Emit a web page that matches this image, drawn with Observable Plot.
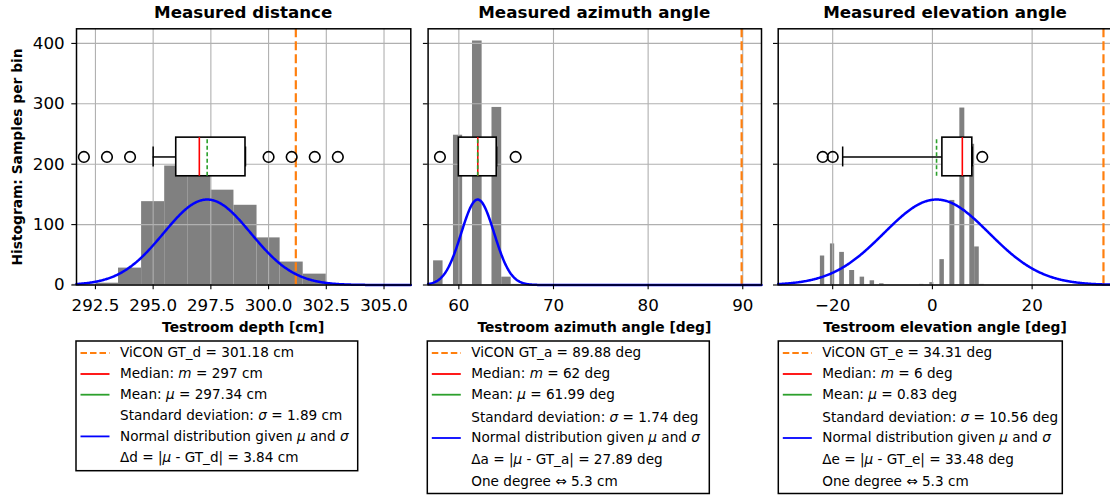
<!DOCTYPE html>
<html><head><meta charset="utf-8">
<script src="https://cdn.jsdelivr.net/npm/d3@7"></script>
<script src="https://cdn.jsdelivr.net/npm/@observablehq/plot@0.6"></script>
<style>
html,body{margin:0;padding:0;background:#fff;overflow:hidden;}
#page{position:relative;width:1110px;height:495px;overflow:hidden;background:#fff;font-family:"DejaVu Sans",sans-serif;}
#page svg{position:absolute;top:0;}
</style></head><body><div id="page"></div>
<script>
// ---------- DATA ----------
const yTicks = [0, 100, 200, 300, 400];

// Measured distance
const distBinLo  = [291.5, 292.5, 293.5, 294.5, 295.5, 296.5, 297.5, 298.5, 299.5, 300.5, 301.5, 302.5];
const distBinHi  = [292.5, 293.5, 294.5, 295.5, 296.5, 297.5, 298.5, 299.5, 300.5, 301.5, 302.5, 303.5];
const distCounts = [1, 3, 28, 138, 197, 215, 157, 132, 78, 38, 18, 1];
const distBox = {whiskerLo: 295, q1: 296, median: 297, q3: 299, whiskerHi: 299};
const distOutliers = [292, 293, 294, 300, 301, 302, 303];
const distMean = 297.34, distSd = 1.89, distGT = 301.18;
const distTicks = [292.5, 295, 297.5, 300, 302.5, 305];

// Measured azimuth angle
const aziBinLo  = [57.33, 59.43, 61.44, 63.50, 64.53, 65.56];
const aziBinHi  = [58.33, 60.40, 62.46, 64.53, 65.53, 66.56];
const aziCounts = [40, 248, 404, 294, 13, 1];
const aziBox = {whiskerLo: 60, q1: 60, median: 62, q3: 64, whiskerHi: 64};
const aziOutliers = [58, 66];
const aziMean = 61.99, aziSd = 1.74, aziGT = 89.88;
const aziTicks = [60, 70, 80, 90];

// Measured elevation angle
const eleBinLo  = [-22.47, -20.46, -18.60, -16.60, -14.50, -12.50, -10.60, -2.60, -0.52, 1.50, 3.50, 5.50, 7.50, 8.47, 9.50];
const eleBinHi  = [-21.60, -19.60, -17.65, -15.60, -13.60, -11.60, -9.70, -1.70, 0.28, 2.40, 4.50, 6.50, 8.47, 9.40, 10.40];
const eleCounts = [48, 68, 54, 24, 13, 7, 2, 1, 4, 42, 140, 293, 233, 63, 1];
const eleBox = {whiskerLo: -18, q1: 2, median: 6, q3: 8, whiskerHi: 8};
const eleOutliers = [-22, -20, 10];
const eleMean = 0.83, eleSd = 10.56, eleGT = 34.31;
const eleTicks = [-20, 0, 20];

const titles  = ["Measured distance", "Measured azimuth angle", "Measured elevation angle"];
const xLabels = ["Testroom depth [cm]", "Testroom azimuth angle [deg]", "Testroom elevation angle [deg]"];
const yLabel  = "Histogram: Samples per bin";

const legend1 = ["ViCON GT_d = 301.18 cm", "Median: *m* = 297 cm", "Mean: *μ* = 297.34 cm",
  "Standard deviation: *σ* = 1.89 cm", "Normal distribution given *μ* and *σ*", "Δd = |*μ* - GT_d| = 3.84 cm"];
const legend2 = ["ViCON GT_a = 89.88 deg", "Median: *m* = 62 deg", "Mean: *μ* = 61.99 deg",
  "Standard deviation: *σ* = 1.74 deg", "Normal distribution given *μ* and *σ*", "Δa = |*μ* - GT_a| = 27.89 deg", "One degree ⇔ 5.3 cm"];
const legend3 = ["ViCON GT_e = 34.31 deg", "Median: *m* = 6 deg", "Mean: *μ* = 0.83 deg",
  "Standard deviation: *σ* = 10.56 deg", "Normal distribution given *μ* and *σ*", "Δe = |*μ* - GT_e| = 33.48 deg", "One degree ⇔ 5.3 cm"];
const legendHandles = ["gt", "median", "mean", "none", "normal", "none", "none"];

// ---------- STYLE / LAYOUT ----------
const yMax = 424.2;
const boxCenter = 212, boxHalf = 32, capHalf = 16.5;
const curvePeak = 141.5;
const C = {bar: "#808080", grid: "#b0b0b0", gt: "#ff7f0e", median: "#ff0000", mean: "#2ca02c", normal: "#0000ff"};
const FONT = "DejaVu Sans";
const fmtMinus = d => (d < 0 ? "\u2212" + Math.abs(d) : String(d));

const panels = [
  {left: 0, width: 420, mL: 76, mR: 9.7, domain: [291.68, 306.16], ticks: distTicks, fmt: d => d.toFixed(1),
   lo: distBinLo, hi: distBinHi, n: distCounts, box: distBox, out: distOutliers, mean: distMean, sd: distSd, gt: distGT,
   showY: true, legend: legend1, lg: {x: 76, w: 281.7, h: 129.7, base: [357.3, 378.3, 399, 420, 440.7, 461.7]}},
  {left: 420, width: 350, mL: 7.6, mR: 9, domain: [56.75, 91.98], ticks: aziTicks, fmt: d => String(d),
   lo: aziBinLo, hi: aziBinHi, n: aziCounts, box: aziBox, out: aziOutliers, mean: aziMean, sd: aziSd, gt: aziGT,
   showY: false, legend: legend2, lg: {x: 427.3, w: 282, h: 152.5, base: [357.3, 378.3, 399, 421.7, 442.3, 464.3, 485.7]}},
  {left: 770, width: 345, mL: 7.7, mR: 2.6, domain: [-30.93, 36.2], ticks: eleTicks, fmt: fmtMinus,
   lo: eleBinLo, hi: eleBinHi, n: eleCounts, box: eleBox, out: eleOutliers, mean: eleMean, sd: eleSd, gt: eleGT,
   showY: false, legend: legend3, lg: {x: 778.3, w: 284, h: 152.5, base: [357.3, 378.3, 399, 421.7, 442.3, 464.3, 485.7]}}
];

const page = document.getElementById("page");
const mT = 28.3, svgH = 340, mB = svgH - 284.5;

panels.forEach(p => {
  const bars = p.n.map((n, i) => ({lo: p.lo[i], hi: p.hi[i], n}));
  const xs = d3.range(0, 501).map(i => p.domain[0] + (p.domain[1] - p.domain[0]) * i / 500);
  const curve = xs.map(x => ({x, y: curvePeak * Math.exp(-0.5 * ((x - p.mean) / p.sd) ** 2)}));
  const b = p.box;
  const chart = Plot.plot({
    width: p.width, height: svgH,
    marginLeft: p.mL, marginRight: p.mR, marginTop: mT, marginBottom: mB,
    x: {domain: p.domain, label: null},
    y: {domain: [0, yMax], label: null},
    style: {fontFamily: FONT, fontSize: "16.7px", color: "black", background: "transparent", overflow: "visible"},
    marks: [
      Plot.rect(bars, {x1: "lo", x2: "hi", y1: () => 0, y2: "n", fill: C.bar}),
      Plot.gridX(p.ticks, {stroke: C.grid, strokeOpacity: 1, strokeWidth: 1.1}),
      Plot.gridY(yTicks, {stroke: C.grid, strokeOpacity: 1, strokeWidth: 1.1}),
      Plot.ruleX([p.gt], {stroke: C.gt, strokeWidth: 2.2, strokeDasharray: "9,4"}),
      Plot.line(curve, {x: "x", y: "y", stroke: C.normal, strokeWidth: 2.5}),
      // boxplot
      Plot.ruleY([b], {x1: "whiskerLo", x2: "q1", y: () => boxCenter, stroke: "black", strokeWidth: 1.5}),
      Plot.ruleY([b], {x1: "q3", x2: "whiskerHi", y: () => boxCenter, stroke: "black", strokeWidth: 1.5}),
      Plot.ruleX([b.whiskerLo, b.whiskerHi], {x: d => d, y1: () => boxCenter - capHalf, y2: () => boxCenter + capHalf, stroke: "black", strokeWidth: 1.5}),
      Plot.rect([b], {x1: "q1", x2: "q3", y1: () => boxCenter - boxHalf, y2: () => boxCenter + boxHalf, fill: "white", stroke: "black", strokeWidth: 1.6}),
      Plot.ruleX([b.median], {x: d => d, y1: () => boxCenter - boxHalf, y2: () => boxCenter + boxHalf, stroke: C.median, strokeWidth: 1.6}),
      Plot.ruleX([p.mean], {x: d => d, y1: () => boxCenter - boxHalf, y2: () => boxCenter + boxHalf, stroke: C.mean, strokeWidth: 1.6, strokeDasharray: "4,2.5"}),
      Plot.dot(p.out, {x: d => d, y: () => boxCenter, r: 5.3, stroke: "black", strokeWidth: 1.6, fill: "none"}),
      Plot.frame({stroke: "black", strokeWidth: 1.5}),
      Plot.axisX(p.ticks, {tickSize: 4.7, tickPadding: 9.8, tickFormat: p.fmt, label: null, fontSize: 16.7, stroke: "black", strokeWidth: 1.1}),
      Plot.axisY(yTicks, {tickSize: 4.7, tickPadding: 7.1, tickFormat: p.showY ? (d => String(d)) : (() => ""), label: null, fontSize: 16.7, stroke: "black", strokeWidth: 1.1})
    ]
  });
  chart.style.left = p.left + "px";
  page.appendChild(chart);
});

// ---------- TEXT OVERLAY (titles, axis labels, legends) ----------
const ov = d3.select(page).append("svg")
  .attr("width", 1110).attr("height", 495)
  .style("left", "0px").style("font-family", FONT);

function frameCenter(p) { return p.left + p.mL + (p.width - p.mL - p.mR) / 2; }

panels.forEach((p, i) => {
  const cx = frameCenter(p);
  ov.append("text").attr("x", cx).attr("y", 18.3).attr("text-anchor", "middle")
    .attr("font-size", 16.7).attr("font-weight", "bold").text(titles[i]);
  ov.append("text").attr("x", cx).attr("y", 331.7).attr("text-anchor", "middle")
    .attr("font-size", 13.8).attr("font-weight", "bold").text(xLabels[i]);

  // legend
  const L = p.lg;
  const g = ov.append("g");
  g.append("rect").attr("x", L.x).attr("y", 341).attr("width", L.w).attr("height", L.h)
    .attr("fill", "white").attr("stroke", "black").attr("stroke-width", 1.5);
  p.legend.forEach((s, j) => {
    const base = L.base[j];
    const h = legendHandles[j];
    const ly = base - 4.3;
    if (h !== "none") {
      const line = g.append("line").attr("x1", L.x + 4.5).attr("x2", L.x + 33.5).attr("y1", ly).attr("y2", ly)
        .attr("stroke-width", 1.8)
        .attr("stroke", h === "gt" ? C.gt : h === "median" ? C.median : h === "mean" ? C.mean : C.normal);
      if (h === "gt") line.attr("stroke-dasharray", "6.5,3");
    }
    const t = g.append("text").attr("x", L.x + 44).attr("y", base).attr("font-size", 13.6);
    s.split("*").forEach((part, k) => {
      if (!part) return;
      const ts = t.append("tspan").text(part);
      if (k % 2 === 1) ts.attr("font-style", "italic");
    });
  });
});

ov.append("text").attr("transform", "translate(22.3,157) rotate(-90)").attr("text-anchor", "middle")
  .attr("font-size", 13.8).attr("font-weight", "bold").text(yLabel);
</script>
</body></html>
